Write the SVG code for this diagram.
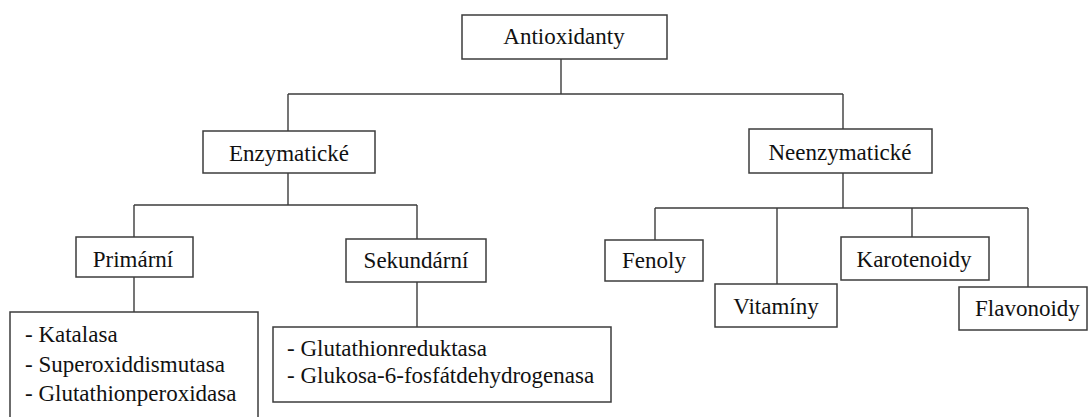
<svg xmlns="http://www.w3.org/2000/svg" width="1088" height="417" viewBox="0 0 1088 417">
<style>
.box{fill:#fff;stroke:#3c3c3c;stroke-width:1.5}
.ln{fill:none;stroke:#3c3c3c;stroke-width:1.4}
text{font-family:'Liberation Serif','Times New Roman',Tinos,'Noto Serif','DejaVu Serif',serif;font-size:23px;fill:#111}
.c{text-anchor:middle}
</style>
<rect width="1088" height="417" fill="#fff"/>
<g id="connectors">
<path class="ln" d="M561,59 V94 M288,94 H843 M288,94 V131 M843,94 V129"/>
<path class="ln" d="M288,173 V205 M134,205 H417 M134,205 V237 M417,205 V239"/>
<path class="ln" d="M134,277 V312 M417,282 V327"/>
<path class="ln" d="M843,173 V208 M655,208 H1028 M655,208 V240 M777,208 V284 M912,208 V237 M1028,208 V287"/>
</g>
<g id="antioxidanty"><rect class="box" x="462" y="15" width="205" height="44"/><text class="c" x="564" y="44" font-family="Liberation Serif, serif">Antioxidanty</text></g>
<g id="enzymaticke"><rect class="box" x="203" y="131" width="172" height="42"/><text class="c" x="289" y="161">Enzymatické</text></g>
<g id="neenzymaticke"><rect class="box" x="749" y="129" width="183" height="44"/><text class="c" x="840" y="160">Neenzymatické</text></g>
<g id="primarni"><rect class="box" x="76" y="237" width="117" height="40"/><text class="c" x="133" y="267">Primární</text></g>
<g id="sekundarni"><rect class="box" x="346" y="239" width="140" height="43"/><text class="c" x="416" y="268">Sekundární</text></g>
<g id="primarni-list"><rect class="box" x="10" y="312" width="248" height="115"/>
<text x="25" y="342">- Katalasa</text><text x="25" y="372">- Superoxiddismutasa</text><text x="25" y="401">- Glutathionperoxidasa</text></g>
<g id="sekundarni-list"><rect class="box" x="273" y="327" width="338" height="75"/>
<text x="287" y="356">- Glutathionreduktasa</text><text x="287" y="383">- Glukosa-6-fosfátdehydrogenasa</text></g>
<g id="fenoly"><rect class="box" x="605" y="240" width="98" height="41"/><text class="c" x="654" y="268">Fenoly</text></g>
<g id="vitaminy"><rect class="box" x="715" y="284" width="122" height="43"/><text class="c" x="776" y="314">Vitamíny</text></g>
<g id="karotenoidy"><rect class="box" x="841" y="237" width="148" height="43"/><text class="c" x="914" y="267">Karotenoidy</text></g>
<g id="flavonoidy"><rect class="box" x="959" y="287" width="128" height="43"/><text x="975" y="316">Flavonoidy</text></g>
</svg>
